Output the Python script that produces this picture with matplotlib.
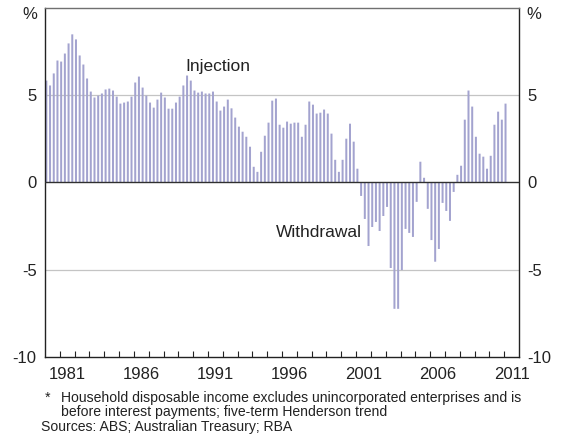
import numpy as np
import matplotlib.pyplot as plt

plt.rcParams['font.family'] = ['Liberation Sans', 'DejaVu Sans']

# quarterly values, 1980 Q1 to 2011 Q1 (per cent of household disposable income)
start_year = 1980
values = [
    5.84, 5.56, 6.25, 6.99, 6.93, 7.39, 7.97, 8.49, 8.20, 7.28,
    6.76, 5.96, 5.21, 4.87, 4.98, 5.10, 5.33, 5.38, 5.27, 4.92,
    4.52, 4.58, 4.64, 4.92, 5.73, 6.07, 5.44, 4.98, 4.58, 4.29,
    4.75, 5.15, 4.87, 4.23, 4.23, 4.58, 4.92, 5.56, 6.13, 5.84,
    5.27, 5.15, 5.21, 5.10, 5.10, 5.21, 4.64, 4.12, 4.35, 4.75,
    4.25, 3.72, 3.20, 2.91, 2.62, 2.05, 0.90, 0.61, 1.76, 2.68,
    3.43, 4.69, 4.81, 3.31, 3.14, 3.49, 3.37, 3.43, 3.43, 2.62,
    3.31, 4.64, 4.46, 3.95, 4.00, 4.18, 3.95, 2.80, 1.30, 0.61,
    1.30, 2.51, 3.37, 2.34, 0.79, -0.77, -2.09, -3.64, -2.55, -2.26,
    -2.78, -1.92, -1.40, -4.90, -7.24, -7.24, -5.02, -2.66, -2.89, -3.12,
    -1.11, 1.19, 0.27, -1.51, -3.30, -4.54, -3.81, -1.17, -1.63, -2.20,
    -0.54, 0.44, 0.96, 3.60, 5.27, 4.35, 2.62, 1.65, 1.48, 0.79,
    1.53, 3.31, 4.06, 3.60, 4.52,
]
year_labels = [1981, 1986, 1991, 1996, 2001, 2006, 2011]
y_ticks = [-10, -5, 0, 5]
note_line1 = "Household disposable income excludes unincorporated enterprises and is"
note_line2 = "before interest payments; five-term Henderson trend"
sources = "Sources: ABS; Australian Treasury; RBA"

x = start_year + np.arange(len(values)) * 0.25 + 0.09

fig = plt.figure(figsize=(5.62, 4.37), dpi=100)
ax = fig.add_axes([0.0801, 0.1831, 0.8434, 0.7986])

ax.bar(x, values, width=0.135, color='#a3a3cf', align='center', zorder=2,
       snap=False, linewidth=0)

ax.set_xlim(1980, 2012)
ax.set_ylim(-10, 10)

# light grid at +/-5, dark zero line
for g in (5, -5):
    ax.axhline(g, color='#c4c4c4', lw=0.9, zorder=1)
ax.axhline(0, color='#303030', lw=1.0, zorder=3)

ax.set_yticks(y_ticks)
ax.set_yticklabels([str(v) for v in y_ticks])
ax.tick_params(axis='y', length=0, labelsize=12, pad=6,
               labelleft=True, labelright=True, colors='#222222')

# year ticks at year boundaries, labels mid-year
ax.set_xticks(np.arange(1981, 2012), minor=True)
ax.set_xticks([y + 0.5 for y in year_labels])
ax.set_xticklabels([str(y) for y in year_labels])
ax.tick_params(axis='x', which='major', length=0, labelsize=12, pad=7,
               colors='#222222')
ax.tick_params(axis='x', which='minor', direction='in', length=4,
               width=0.8, color='#222222')

for side in ('left', 'right', 'bottom'):
    ax.spines[side].set_color('#222222')
    ax.spines[side].set_linewidth(1.0)
ax.spines['top'].set_color('#707070')
ax.spines['top'].set_linewidth(1.0)

ax.text(-0.016, 0.98, '%', transform=ax.transAxes, ha='right', va='center',
        fontsize=12, color='#222222')
ax.text(1.016, 0.98, '%', transform=ax.transAxes, ha='left', va='center',
        fontsize=12, color='#222222')

ax.text(1989.45, 6.65, 'Injection', fontsize=12.5, color='#222222',
        ha='left', va='center')
ax.text(2001.4, -2.85, 'Withdrawal', fontsize=12.5, color='#222222',
        ha='right', va='center')

fig.text(45 / 562, 1 - 402 / 437, '*', fontsize=10.1, color='#222222',
         ha='left', va='baseline')
fig.text(61 / 562, 1 - 402 / 437, note_line1, fontsize=10.1, color='#222222',
         ha='left', va='baseline')
fig.text(61 / 562, 1 - 416 / 437, note_line2, fontsize=10.1, color='#222222',
         ha='left', va='baseline')
fig.text(41 / 562, 1 - 431 / 437, sources, fontsize=10.1, color='#222222',
         ha='left', va='baseline')

fig.savefig('out.png', dpi=100)
